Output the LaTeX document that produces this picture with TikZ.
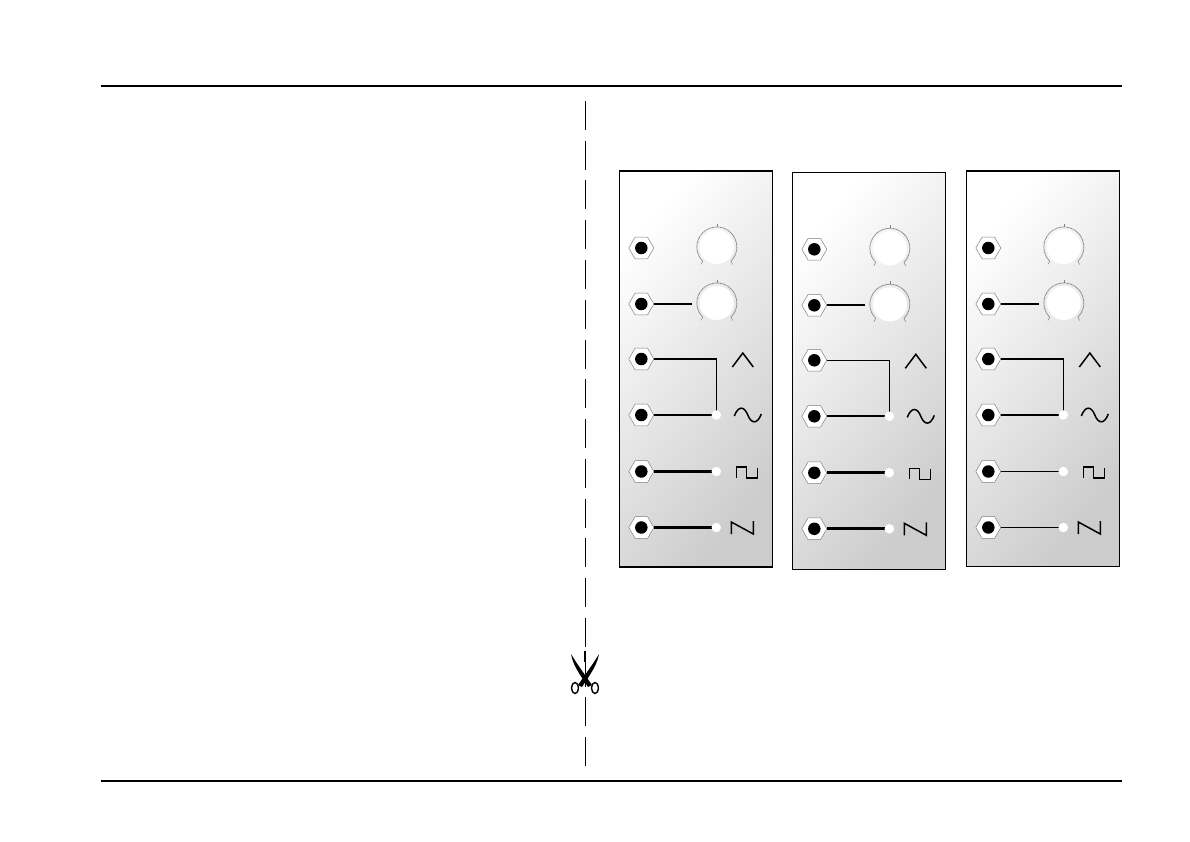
\documentclass[tikz,border=0pt]{standalone}
\usetikzlibrary{shapes.geometric}

\tikzset{
  rule/.style={line width=1.6pt},
  cutline/.style={line width=1pt, dash pattern=on 29pt off 10.75pt},
  socket/.style={regular polygon, regular polygon sides=6, minimum size=25pt,
    inner sep=0pt, draw=black!50, line width=0.5pt, fill=white},
  hole/.style={circle, fill=black, minimum size=12.5pt, inner sep=0pt},
  knob/.style={circle, fill=white, minimum size=34pt, inner sep=0pt},
  tap/.style={circle, fill=white, minimum size=9.5pt, inner sep=0pt},
  scale mark/.style={black!50, line width=0.8pt, dash pattern=on 0.9pt off 0.5pt},
  wave/.style={line width=1.5pt, line join=miter},
  pics/vcopanel/.style args={#1/#2/#3}{code={
    \shade[top color=white, bottom color=black!20, shading angle=50]
      (0,0) rectangle (153,#1);
    \draw[line width=1.1pt] (0,0) rectangle (153,#1);
    % the two knobs
    \foreach \name/\row in {ka/76,kb/132} {
      \node[knob] (\name) at (97.5,\row) {};
      \draw[scale mark] (83.4,\row+14.1) arc (135:405:20);
      \draw[black!50, line width=0.5pt] (97.5,\row-20) -- (97.5,\row-23);
      \draw[black!50, line width=0.5pt] (83.4,\row+14.1) -- (81.6,\row+17.5);
      \draw[black!50, line width=0.5pt] (111.6,\row+14.1) -- (113.4,\row+17.5);
    }
    % the six sockets
    \foreach \name/\row in {sa/77,sb/133,sc/188,sd/244,se/300.5,sf/356.5} {
      \node[socket] (\name) at (22,\row) {};
      \node[hole] (\name h) at (22,\row) {};
    }
    % the taps
    \coordinate (kbend) at (73,133);
    \foreach \name/\row in {td/244,te/300.5,tf/356.5} {
      \coordinate (\name) at (97,\row);
    }
    % the wires
    \draw[line width=#2] (sb) -- (kbend);
    \draw[line width=1.4pt] (sc) -| (td);
    \draw[line width=1.7pt] (sd) -- (td);
    \draw[line width=#3] (se) -- (te);
    \draw[line width=#3] (sf) -- (tf);
    \node[tap] (tapd) at (td) {};
    \node[tap] (tape) at (te) {};
    \node[tap] (tapf) at (tf) {};
    % the wave signs
    \draw[wave] (113,196) -- (123.5,182) -- (134,196);
    \draw[wave] (115,245) .. controls (119,234.5) and (125,235) .. (128.5,244)
      .. controls (132,253) and (138,253.5) .. (142,243);
    \draw[wave] (117,307) |- (127,296) |- (138,307) -- (138,297);
    \draw[wave] (112,363) -- (112,351) -- (134,363) -- (134,350);
  }}
}

\begin{document}
\begin{tikzpicture}[x=1pt, y=-1pt]
  \useasboundingbox (0,0) rectangle (1190,842);

  \coordinate (ruleal) at (101,86);
  \coordinate (rulear) at (1122,86);
  \coordinate (rulebl) at (101,781);
  \coordinate (rulebr) at (1122,781);
  \coordinate (cuttop) at (585,101);
  \coordinate (cutbot) at (585,766);
  \coordinate (cutmarka) at (585,651);
  \coordinate (cutmarkb) at (585,662);
  \draw[rule] (ruleal) -- (rulear);
  \draw[rule] (rulebl) -- (rulebr);
  \draw[cutline] (cuttop) -- (cutbot);
  \draw[line width=2pt] (cutmarka) -- (cutmarkb);

  \pic (pa) at (619.3,171) {vcopanel={396/2.4pt/3pt}};
  \pic (pb) at (792.3,172.3) {vcopanel={397/1.8pt/2.8pt}};
  \pic (pc) at (966.3,171) {vcopanel={395.5/1.2pt/1.6pt}};

  % scissors
  \fill (571,654) .. controls (577,664) and (583,672) .. (592,685)
    -- (588,687) .. controls (581,676) and (573,666) .. cycle;
  \fill (599,654) .. controls (593,664) and (587,672) .. (578,685)
    -- (582,687) .. controls (589,676) and (597,666) .. cycle;
  \draw[line width=1.4pt] (575,688) ellipse [x radius=3.5, y radius=5.5];
  \draw[line width=1.4pt] (595,688) ellipse [x radius=3.5, y radius=5.5];
\end{tikzpicture}
\end{document}
